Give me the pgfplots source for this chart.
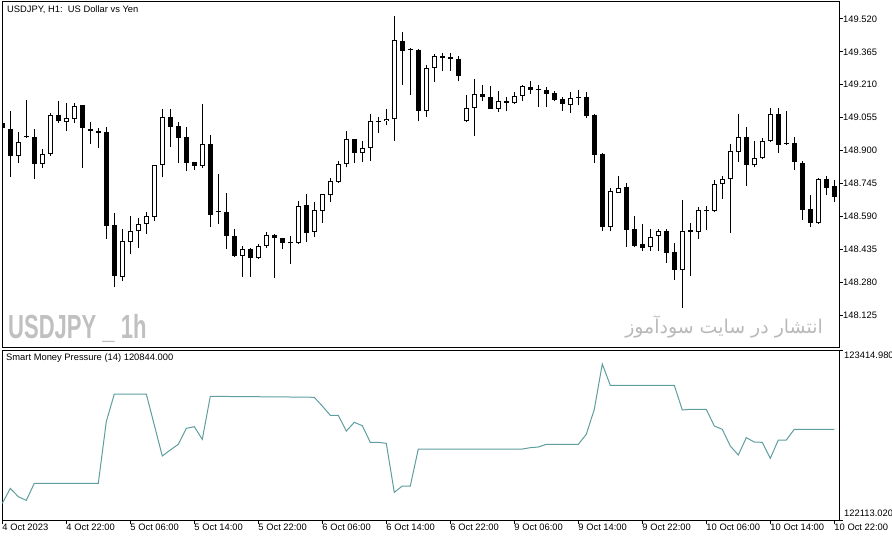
\documentclass[border=0pt]{standalone}
\usepackage{fontspec}
\setmainfont{Liberation Sans}
\newfontfamily\arabicfont[Script=Arabic]{DejaVu Sans}
\TeXXeTstate=1
\usepackage{graphicx}
\usepackage{pgfplots}
\pgfplotsset{compat=1.18}
\usepackage{pgfplotstable}
\definecolor{smp}{RGB}{95,158,160}
\definecolor{wm}{RGB}{192,192,192}
\definecolor{wmb}{RGB}{185,185,185}
\newcommand\lab{\fontsize{9.4}{11}\selectfont}

\pgfplotstableread{
k O H L C
2 148.873 148.989 148.843 148.939
5 148.837 148.907 148.819 148.882
6 148.884 149.079 148.874 149.066
8 149.033 149.124 148.994 149.052
9 149.049 149.124 149.031 149.108
15 148.304 148.529 148.285 148.472
16 148.467 148.590 148.414 148.521
17 148.519 148.581 148.442 148.552
18 148.552 148.609 148.508 148.590
19 148.588 148.833 148.570 148.830
20 148.830 149.097 148.774 149.057
25 148.826 149.118 148.816 148.929
30 148.405 148.450 148.303 148.435
32 148.392 148.458 148.389 148.452
33 148.452 148.518 148.442 148.500
37 148.464 148.662 148.461 148.640
39 148.515 148.656 148.491 148.618
40 148.614 148.697 148.560 148.694
41 148.689 148.769 148.656 148.755
42 148.753 148.849 148.749 148.835
43 148.835 148.991 148.821 148.953
45 148.887 148.943 148.844 148.910
46 148.910 149.071 148.852 149.038
48 149.038 149.094 149.019 149.049
49 149.047 149.534 148.947 149.419
53 149.085 149.302 149.060 149.287
54 149.287 149.353 149.225 149.344
58 149.038 149.162 149.033 149.099
59 149.099 149.236 148.970 149.165
62 149.097 149.179 149.080 149.132
64 149.123 149.178 149.118 149.156
65 149.156 149.207 149.132 149.203
71 149.113 149.174 149.079 149.146
76 148.541 148.722 148.519 148.709
77 148.702 148.780 148.698 148.725
81 148.444 148.529 148.428 148.491
82 148.497 148.532 148.428 148.521
85 148.336 148.667 148.160 148.521
87 148.515 148.634 148.485 148.618
89 148.617 148.761 148.610 148.742
90 148.741 148.780 148.673 148.766
91 148.764 148.931 148.513 148.896
92 148.892 149.072 148.848 148.964
94 148.830 148.943 148.821 148.863
95 148.863 148.959 148.859 148.943
96 148.943 149.101 148.940 149.071
102 148.557 148.769 148.554 148.764
}\bull

\pgfplotstableread{
k O H L C
0 149.028 149.036 148.997 149.005
1 149.002 149.086 148.777 148.876
3 148.967 149.140 148.958 148.962
4 148.964 149.002 148.764 148.835
7 149.066 149.134 149.031 149.039
10 149.113 149.116 148.819 149.005
11 149.002 149.033 148.932 148.991
12 148.991 149.008 148.914 148.981
13 148.986 149.011 148.485 148.546
14 148.548 148.607 148.255 148.309
21 149.057 149.094 148.918 149.009
22 149.014 149.035 148.840 148.961
23 148.964 149.013 148.802 148.843
24 148.844 148.848 148.810 148.826
26 148.929 148.973 148.541 148.598
27 148.614 148.791 148.552 148.609
28 148.609 148.700 148.435 148.496
29 148.496 148.529 148.400 148.405
31 148.435 148.439 148.306 148.392
34 148.500 148.505 148.298 148.488
35 148.486 148.489 148.435 148.463
36 148.469 148.497 148.364 148.464
38 148.642 148.694 148.467 148.510
44 148.953 148.956 148.840 148.887
47 149.041 149.057 148.981 149.036
50 149.415 149.457 149.210 149.371
51 149.379 149.385 149.163 149.374
52 149.372 149.377 149.038 149.085
55 149.346 149.360 149.273 149.338
56 149.339 149.360 149.276 149.330
57 149.330 149.344 149.226 149.253
60 149.165 149.207 149.132 149.151
61 149.151 149.203 149.096 149.097
63 149.132 149.154 149.085 149.123
66 149.198 149.229 149.165 149.187
67 149.192 149.207 149.107 149.187
68 149.184 149.198 149.107 149.168
69 149.170 149.179 149.132 149.140
70 149.141 149.151 149.088 149.118
72 149.152 149.185 149.113 149.148
73 149.151 149.176 149.052 149.064
74 149.068 149.071 148.843 148.877
75 148.884 148.887 148.519 148.541
78 148.727 148.746 148.447 148.527
79 148.529 148.592 148.447 148.452
80 148.458 148.554 148.428 148.439
83 148.521 148.529 148.372 148.416
84 148.420 148.463 148.290 148.336
86 148.526 148.559 148.309 148.515
88 148.621 148.640 148.526 148.617
93 148.964 149.011 148.735 148.830
97 149.071 149.101 148.890 148.928
98 148.936 149.085 148.928 148.931
99 148.936 148.964 148.810 148.844
100 148.840 148.849 148.573 148.620
101 148.625 148.689 148.541 148.557
103 148.764 148.779 148.689 148.725
104 148.731 148.761 148.656 148.683
}\bear

\pgfplotstableread{
k v
0 122240.6
1 122355.5
2 122291.7
3 122263.6
4 122393.8
12 122393.8
13 122866.1
14 123078.0
18 123078.0
19 122840.6
20 122603.2
21 122649.1
22 122692.5
23 122815.1
24 122827.8
25 122730.8
26 123060.1
38 123054.0
39 123052.5
40 122986.1
41 122914.6
42 122914.6
43 122794.6
44 122861.0
45 122835.5
46 122707.8
47 122707.8
48 122700.2
49 122324.9
50 122373.4
51 122373.4
52 122656.8
65 122656.8
66 122667.0
67 122672.1
68 122692.5
72 122692.5
73 122769.1
74 122960.6
75 123307.8
76 123144.4
84 123144.4
85 122955.5
86 122960.6
88 122960.6
89 122832.9
90 122807.4
91 122679.7
92 122610.8
93 122743.6
94 122710.4
95 122707.8
96 122585.3
97 122725.7
98 122725.7
99 122807.4
104 122807.4
}\smpdata

\begin{document}
\begin{tikzpicture}[x=1bp,y=1bp]
\path[use as bounding box] (0,0) rectangle (892,-541);
\begin{axis}[
  at={(2bp,-347bp)}, anchor=south west, width=837bp, height=345bp, scale only axis,
  xmin=-0.0375, xmax=104.59, ymin=147.9742, ymax=149.6001,
  axis line style={black, line width=1bp},
  xtick=\empty,
  ytick={148.125,148.280,148.435,148.590,148.745,148.900,149.055,149.210,149.365,149.520},
  yticklabels={148.125,148.280,148.435,148.590,148.745,148.900,149.055,149.210,149.365,149.520},
  ytick pos=right, yticklabel pos=right,
  tick align=outside, major tick length=4bp,
  tick style={black, line width=1bp},
  yticklabel style={font=\lab, anchor=west, inner sep=0pt, xshift=0bp},
  scaled ticks=false,
]
\addplot[black, line width=1bp, no markers, quiver={u=0, v=\thisrow{H}-\thisrow{L}}] table[x=k, y=L] {\bull};
\addplot[black, line width=1bp, no markers, quiver={u=0, v=\thisrow{H}-\thisrow{L}}] table[x=k, y=L] {\bear};
\addplot[black, line width=5bp, no markers, quiver={u=0, v=\thisrow{C}-\thisrow{O}}] table[x=k, y=O] {\bear};
\addplot[black, line width=5bp, no markers, quiver={u=0, v=\thisrow{C}-\thisrow{O}}] table[x=k, y=O] {\bull};
\addplot[white, line width=3bp, no markers, quiver={u=0, v=\thisrow{C}-\thisrow{O}, every arrow/.append style={shorten <=1bp, shorten >=1bp}}] table[x=k, y=O] {\bull};
\end{axis}
\begin{axis}[
  at={(2bp,-520bp)}, anchor=south west, width=837bp, height=170bp, scale only axis,
  xmin=-0.0375, xmax=104.59, ymin=122113.02, ymax=123414.98,
  axis line style={black, line width=1bp},
  xtick={0,8,...,104},
  xticklabels={4 Oct 2023,4 Oct 22:00,5 Oct 06:00,5 Oct 14:00,5 Oct 22:00,6 Oct 06:00,6 Oct 14:00,6 Oct 22:00,9 Oct 06:00,9 Oct 14:00,9 Oct 22:00,10 Oct 06:00,10 Oct 14:00,10 Oct 22:00},
  xtick pos=bottom, xticklabel pos=bottom,
  ytick={122113.02,123414.98}, yticklabels={}, ytick pos=right,
  tick align=outside, major tick length=4bp,
  tick style={black, line width=1bp},
  xticklabel style={font=\lab, anchor=north west, inner sep=0pt, xshift=0bp},
  scaled ticks=false,
]
\addplot[smp, line width=1bp, no markers] table[x=k, y=v] {\smpdata};
\end{axis}
\node[anchor=north west, inner sep=0pt, font=\lab] at (844,-352) {123414.980};
\node[anchor=south west, inner sep=0pt, font=\lab] at (844,-517) {122113.020};
\node[anchor=west, inner sep=0pt, font=\lab] at (7,-10) {USDJPY, H1:\ \ US Dollar vs Yen};
\node[anchor=west, inner sep=0pt, font=\lab] at (6,-358) {Smart Money Pressure (14) 120844.000};
\node[anchor=base west, inner sep=0pt, text=wm, font=\fontsize{33.5}{34}\selectfont\bfseries] at (8,-339) {\scalebox{0.66}[1]{USDJPY \_ 1h}};
\node[anchor=base east, inner sep=0pt, text=wmb, font=\arabicfont\fontsize{19}{21}\selectfont] at (823,-334) {\beginR انتشار در سایت سودآموز\endR};
\end{tikzpicture}
\end{document}
